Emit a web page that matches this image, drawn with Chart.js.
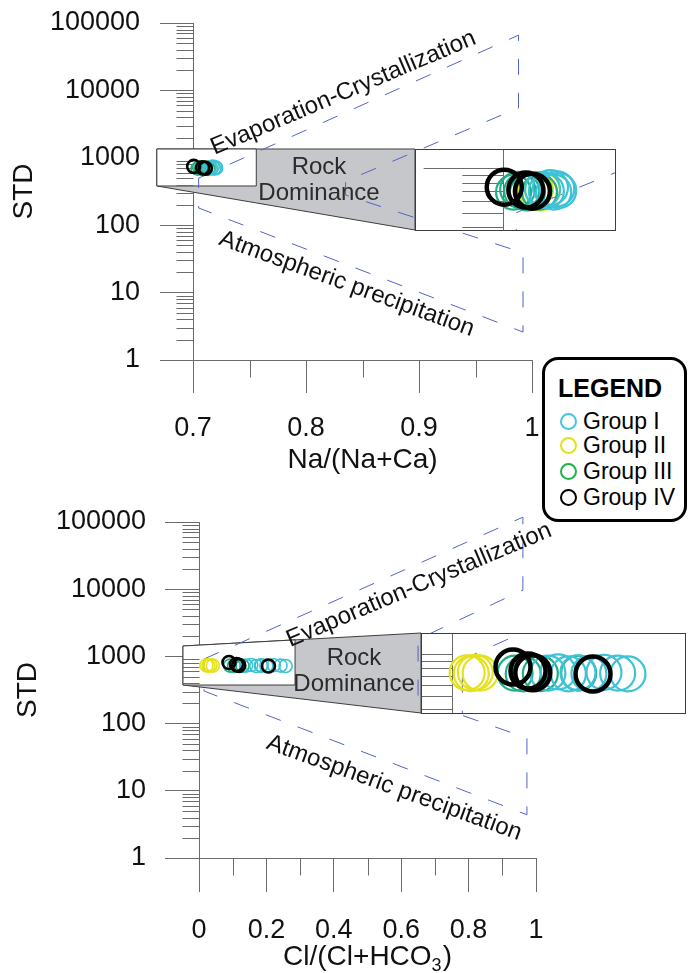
<!DOCTYPE html>
<html>
<head>
<meta charset="utf-8">
<title>Gibbs diagrams</title>
<script src="https://cdn.jsdelivr.net/npm/chart.js@4.4.1/dist/chart.umd.min.js"></script>
<style>
  html, body { margin: 0; padding: 0; background: #fff; }
  #page { position: relative; width: 688px; height: 973px; overflow: hidden; font-family: "Liberation Sans", Arial, sans-serif; }
  #topChart { position: absolute; left: 0; top: 0; }
  #bottomChart { position: absolute; left: 0; top: 480px; }
  #legend { position: absolute; left: 542px; top: 357px; width: 139px; height: 159px; border: 3px solid #000; border-radius: 16px; background: #fff; color: #000; }
  #legend .title { position: absolute; left: 13px; top: 13px; font-weight: bold; font-size: 25px; line-height: 30px; }
  #legend .row { position: absolute; left: 15px; height: 26px; display: flex; align-items: center; font-size: 23px; line-height: 26px; white-space: nowrap; }
  #legend .dot { width: 13px; height: 13px; border: 2px solid; border-radius: 50%; margin-right: 6px; }
</style>
</head>
<body>
<div id="page">
  <canvas id="topChart" width="688" height="480"></canvas>
  <canvas id="bottomChart" width="688" height="493"></canvas>
  <div id="legend">
    <div class="title">LEGEND</div>
    <div class="row" style="top:48px"><span class="dot" style="border-color:#4cc3dc"></span>Group I</div>
    <div class="row" style="top:72px"><span class="dot" style="border-color:#e2df1c"></span>Group II</div>
    <div class="row" style="top:98px"><span class="dot" style="border-color:#23b14c"></span>Group III</div>
    <div class="row" style="top:124px"><span class="dot" style="border-color:#000"></span>Group IV</div>
  </div>
</div>
<script>
  // ---- values ----
  const groupNames = ['Group I', 'Group II', 'Group III', 'Group IV'];
  const groupColors = ['#3ec2d8', '#e4e11e', '#1fae86', '#000000'];

  // Na/(Na+Ca) vs STD
  const naG1x = [0.7146, 0.7160, 0.7175, 0.7187, 0.7198, 0.7205];
  const naG1y = [720, 700, 740, 690, 725, 705];
  const naG2x = [0.7090, 0.7105, 0.7120, 0.7135, 0.7146];
  const naG2y = [700, 690, 720, 680, 710];
  const naG3x = [0.7040, 0.7055, 0.7070, 0.7090, 0.7115, 0.7135];
  const naG3y = [690, 720, 700, 680, 705, 690];
  const naG4x = [0.7006, 0.7085, 0.7109];
  const naG4y = [745, 713, 700];

  // Cl/(Cl+HCO3) vs STD
  const clG1x = [0.140, 0.155, 0.170, 0.184, 0.200, 0.222, 0.242, 0.257];
  const clG1y = [730, 745, 720, 735, 725, 740, 730, 720];
  const clG2x = [0.022, 0.028, 0.034, 0.041];
  const clG2y = [735, 725, 740, 730];
  const clG3x = [0.092, 0.104, 0.114, 0.129, 0.185];
  const clG3y = [730, 720, 740, 725, 730];
  const clG4x = [0.089, 0.111, 0.118, 0.206];
  const clG4y = [810, 757, 735, 720];

  // Gibbs boundary outline (closed)
  const naBoundX = [0.705, 0.988, 0.988, 0.835, 0.835, 0.992, 0.992, 0.705, 0.705];
  const naBoundY = [500, 66000, 5500, 450, 280, 39, 2.6, 180, 500];
  const clBoundX = [0.015, 0.961, 0.961, 0.650, 0.650, 0.973, 0.973, 0.015, 0.015];
  const clBoundY = [915, 118000, 9700, 1800, 225, 61, 4.4, 305, 915];

  // ticks
  const naTicks = [0.7, 0.8, 0.9, 1];
  const naMinor = [0.75, 0.85, 0.95];
  const clTicks = [0, 0.2, 0.4, 0.6, 0.8, 1];
  const clMinor = [0.1, 0.3, 0.5, 0.7, 0.9];
  const stdTicks = [1, 10, 100, 1000, 10000, 100000];

  // ---- styling ----
  const dashBlue = '#5264c8';
  const axisGrey = '#6b6b6b';
  const edgeGrey = '#3d3d3d';
  const fam = '"Liberation Sans", Arial, Helvetica, sans-serif';
  const layer = [0.2, 0.4, 0.3, 0.1]; // black on top, yellow underneath

  const panels = [
    {
      canvas: 'topChart', xMin: 0.7, xMax: 1.13,
      ticks: naTicks, minor: naMinor,
      groupsX: [naG1x, naG2x, naG3x, naG4x], groupsY: [naG1y, naG2y, naG3y, naG4y],
      boundX: naBoundX, boundY: naBoundY,
      xTitle: ['Na/(Na+Ca)', '', ''],
      pad: { top: 23, right: 9 }, yWidth: 193, xHeight: 120,
      tickLen: 33, minorLen: 17, yPad: 20, xPad: 19, stdPad: 7, titleLift: 20,
      small: { x: [0.668, 0.756], y: [382, 1350] },
      big: { x: [0.8965, 1.0735], y: [85, 1350] },
      zoom: { x0: 0.668, y0: 382, zx: 2.42, zy: 2.19 },
      notes: [
        { text: 'Evaporation-Crystallization', x: 0.833, y: 9150, angle: -23 },
        { text: 'Atmospheric precipitation', x: 0.836, y: 13.4, angle: 20 },
        { text: 'Rock', x: 0.8115, y: 730, angle: 0, color: '#2b2b2b' },
        { text: 'Dominance', x: 0.8115, y: 300, angle: 0, color: '#2b2b2b' }
      ]
    },
    {
      canvas: 'bottomChart', xMin: 0, xMax: 1.445,
      ticks: clTicks, minor: clMinor,
      groupsX: [clG1x, clG2x, clG3x, clG4x], groupsY: [clG1y, clG2y, clG3y, clG4y],
      boundX: clBoundX, boundY: clBoundY,
      xTitle: ['Cl/(Cl+HCO', '3', ')'],
      pad: { top: 42, right: 2 }, yWidth: 199, xHeight: 115,
      tickLen: 34, minorLen: 17, yPad: 19, xPad: 22, stdPad: 11, titleLift: 16,
      small: { x: [-0.0475, 0.285], y: [375, 1428] },
      big: { x: [0.6588, 1.442], y: [143.8, 2229] },
      zoom: { x0: -0.0454, y0: 375, zx: 2.03, zy: 2.05 },
      notes: [
        { text: 'Evaporation-Crystallization', x: 0.653, y: 11500, angle: -23 },
        { text: 'Atmospheric precipitation', x: 0.579, y: 11, angle: 20 },
        { text: 'Rock', x: 0.46, y: 946, angle: 0, color: '#2b2b2b' },
        { text: 'Dominance', x: 0.46, y: 388, angle: 0, color: '#2b2b2b' }
      ]
    }
  ];

  const zip = (xs, ys) => xs.map((x, i) => ({ x: x, y: ys[i] }));

  // ranges of the hidden scales that draw the enlarged copy inside the big box
  function insetX(p) {
    const z = p.zoom, X0 = p.big.x[0];
    return [z.x0 + (p.xMin - X0) / z.zx, z.x0 + (p.xMax - X0) / z.zx];
  }
  function insetY(p) {
    const z = p.zoom, L0 = Math.log10(p.big.y[0]);
    const f = v => Math.pow(10, Math.log10(z.y0) + (Math.log10(v) - L0) / z.zy);
    return [f(1), f(100000)];
  }

  function bigBox(chart, p) {
    const X = chart.scales.x, Y = chart.scales.y;
    const l = X.getPixelForValue(p.big.x[0]), r = X.getPixelForValue(p.big.x[1]);
    const t = Y.getPixelForValue(p.big.y[1]), b = Y.getPixelForValue(p.big.y[0]);
    return { l: Math.round(l), r: Math.round(r), t: Math.round(t), b: Math.round(b) };
  }

  function drawInsetBox(chart, p) {
    const ctx = chart.ctx, XI = chart.scales.xi, YI = chart.scales.yi;
    const bx = bigBox(chart, p);
    ctx.save();
    ctx.fillStyle = '#fff';
    ctx.fillRect(bx.l, bx.t, bx.r - bx.l, bx.b - bx.t);
    ctx.beginPath();
    ctx.rect(bx.l, bx.t, bx.r - bx.l, bx.b - bx.t);
    ctx.clip();
    // enlarged STD axis
    const ax = Math.round(XI.getPixelForValue(p.xMin)) + 0.5;
    ctx.strokeStyle = axisGrey;
    ctx.lineWidth = 1;
    ctx.beginPath();
    ctx.moveTo(ax, bx.t);
    ctx.lineTo(ax, bx.b);
    for (let e = 0; e < 5; e++) {
      for (let k = 1; k <= 9; k++) {
        const yy = Math.round(YI.getPixelForValue(k * Math.pow(10, e))) + 0.5;
        if (yy < bx.t || yy > bx.b) continue;
        const len = (k === 1 ? p.tickLen : p.minorLen) * p.zoom.zx;
        ctx.moveTo(ax - len, yy);
        ctx.lineTo(ax, yy);
      }
    }
    ctx.stroke();
    ctx.restore();
    ctx.save();
    ctx.strokeStyle = edgeGrey;
    ctx.lineWidth = 1;
    ctx.strokeRect(bx.l + 0.5, bx.t + 0.5, bx.r - bx.l, bx.b - bx.t);
    ctx.restore();
  }

  function decor(p) {
    return {
      id: 'gibbsDecor',
      beforeDatasetsDraw(chart) {
        const ctx = chart.ctx, X = chart.scales.x, Y = chart.scales.y;
        const sx = v => X.getPixelForValue(v), sy = v => Y.getPixelForValue(v);
        const sL = sx(p.small.x[0]), sR = sx(p.small.x[1]);
        const sT = sy(p.small.y[1]), sB = sy(p.small.y[0]);
        const bx = bigBox(chart, p);
        ctx.save();
        ctx.lineWidth = 1;
        ctx.strokeStyle = edgeGrey;
        // grey band joining the small box to the enlarged box
        ctx.beginPath();
        ctx.moveTo(sL, sT);
        ctx.lineTo(bx.l, bx.t);
        ctx.lineTo(bx.l, bx.b);
        ctx.lineTo(sL, sB);
        ctx.closePath();
        ctx.fillStyle = '#c5c7ca';
        ctx.fill();
        ctx.stroke();
        const tY = sT + (bx.t - sT) * (sR - sL) / (bx.l - sL);
        ctx.beginPath();
        ctx.moveTo(sL, sT);
        ctx.lineTo(sR, tY);
        ctx.lineTo(sR, sB);
        ctx.lineTo(sL, sB);
        ctx.closePath();
        ctx.fillStyle = '#fff';
        ctx.fill();
        ctx.stroke();

        // x axis line and minor ticks
        const base = Math.round(chart.chartArea.bottom) + 0.5;
        const left = Math.round(chart.chartArea.left) + 0.5;
        ctx.strokeStyle = axisGrey;
        ctx.beginPath();
        ctx.moveTo(sx(p.xMin), base);
        ctx.lineTo(sx(p.ticks[p.ticks.length - 1]), base);
        p.minor.forEach(v => {
          const xx = Math.round(sx(v)) + 0.5;
          ctx.moveTo(xx, base);
          ctx.lineTo(xx, base + p.minorLen);
        });
        for (let e = 0; e < 5; e++) {
          for (let k = 2; k <= 9; k++) {
            const yy = Math.round(sy(k * Math.pow(10, e))) + 0.5;
            ctx.moveTo(left - p.minorLen, yy);
            ctx.lineTo(left, yy);
          }
        }
        ctx.stroke();
        ctx.restore();
      },
      beforeDatasetDraw(chart, args) {
        const d = chart.data.datasets[args.index];
        if (d.insetBox) drawInsetBox(chart, p);
        if (d.inset) {
          const bx = bigBox(chart, p);
          chart.ctx.save();
          chart.ctx.beginPath();
          chart.ctx.rect(bx.l + 1, bx.t + 1, bx.r - bx.l - 1, bx.b - bx.t - 1);
          chart.ctx.clip();
        }
      },
      afterDatasetDraw(chart, args) {
        if (chart.data.datasets[args.index].inset) chart.ctx.restore();
      },
      afterDatasetsDraw(chart) {
        const ctx = chart.ctx, X = chart.scales.x, Y = chart.scales.y;
        p.notes.forEach(n => {
          ctx.save();
          ctx.translate(X.getPixelForValue(n.x), Y.getPixelForValue(n.y));
          ctx.rotate(n.angle * Math.PI / 180);
          ctx.font = '24px ' + fam;
          ctx.fillStyle = n.color || '#111';
          ctx.textAlign = 'center';
          ctx.textBaseline = 'middle';
          ctx.fillText(n.text, 0, 0);
          ctx.restore();
        });
      },
      afterDraw(chart) {
        const ctx = chart.ctx, X = chart.scales.x;
        const mid = (X.getPixelForValue(p.ticks[0]) + X.getPixelForValue(p.ticks[p.ticks.length - 1])) / 2;
        const yT = chart.height - p.titleLift;
        const big = '28px ' + fam, sub = '18px ' + fam;
        ctx.save();
        ctx.fillStyle = '#111';
        ctx.textBaseline = 'middle';
        ctx.textAlign = 'left';
        ctx.font = big;
        const w1 = ctx.measureText(p.xTitle[0]).width, w3 = ctx.measureText(p.xTitle[2]).width;
        ctx.font = sub;
        const w2 = p.xTitle[1] ? ctx.measureText(p.xTitle[1]).width + 1 : 0;
        let x0 = mid - (w1 + w2 + w3) / 2;
        ctx.font = big;
        ctx.fillText(p.xTitle[0], x0, yT);
        if (p.xTitle[1]) {
          ctx.font = sub;
          ctx.fillText(p.xTitle[1], x0 + w1, yT + 9);
        }
        ctx.font = big;
        ctx.fillText(p.xTitle[2], x0 + w1 + w2, yT);
        ctx.restore();
      }
    };
  }

  function buildPanel(p) {
    const ds = [];
    const outline = {
      data: zip(p.boundX, p.boundY), showLine: true, fill: false,
      borderColor: dashBlue, borderWidth: 1, borderDash: [16, 18],
      pointRadius: 0, clip: false, order: 6
    };
    ds.push(outline);
    p.groupsX.forEach((gx, i) => {
      ds.push({
        label: groupNames[i], data: zip(gx, p.groupsY[i]), showLine: false,
        pointRadius: 6.5, pointBorderWidth: i === 3 ? 2.6 : 1.6,
        pointBorderColor: groupColors[i], pointBackgroundColor: 'rgba(0,0,0,0)',
        clip: false, order: 5 + layer[i]
      });
    });
    ds.push({ data: [], insetBox: true, order: 4 });
    ds.push(Object.assign({}, outline, { xAxisID: 'xi', yAxisID: 'yi', inset: true, order: 3 }));
    p.groupsX.forEach((gx, i) => {
      ds.push({
        label: groupNames[i], data: zip(gx, p.groupsY[i]), showLine: false,
        xAxisID: 'xi', yAxisID: 'yi', inset: true,
        pointRadius: 17.5, pointBorderWidth: i === 3 ? 4.5 : 2.2,
        pointBorderColor: groupColors[i], pointBackgroundColor: 'rgba(0,0,0,0)',
        order: 2 + layer[i]
      });
    });

    const xiR = insetX(p), yiR = insetY(p);
    const tickFont = { family: fam, size: 27 };

    new Chart(document.getElementById(p.canvas), {
      type: 'scatter',
      data: { datasets: ds },
      options: {
        responsive: false,
        animation: false,
        events: [],
        layout: { autoPadding: false, padding: { top: p.pad.top, right: p.pad.right, left: 0, bottom: 0 } },
        plugins: { legend: { display: false }, tooltip: { enabled: false } },
        scales: {
          x: {
            type: 'linear', position: 'bottom', bounds: 'data', min: p.xMin, max: p.xMax,
            afterBuildTicks: s => { s.ticks = p.ticks.map(v => ({ value: v })); },
            afterFit: s => { s.height = p.xHeight; s.paddingLeft = 0; s.paddingRight = 0; },
            grid: { drawOnChartArea: false, drawTicks: true, tickLength: p.tickLen, tickColor: axisGrey, tickWidth: 1 },
            border: { display: false },
            ticks: { padding: p.xPad, color: '#111', font: tickFont, maxRotation: 0, autoSkip: false,
                     callback: v => String(parseFloat(Number(v).toFixed(2))) }
          },
          y: {
            type: 'logarithmic', position: 'left', bounds: 'data', min: 1, max: 100000,
            afterBuildTicks: s => { s.ticks = stdTicks.map(v => ({ value: v, major: true })); },
            afterFit: s => { s.width = p.yWidth; s.paddingTop = 0; s.paddingBottom = 0; },
            grid: { drawOnChartArea: false, drawTicks: true, tickLength: p.tickLen, tickColor: axisGrey, tickWidth: 1 },
            border: { display: true, color: axisGrey, width: 1 },
            ticks: { padding: p.yPad, color: '#111', font: tickFont, autoSkip: false, callback: v => String(v) },
            title: { display: true, text: 'STD', color: '#111', font: { family: fam, size: 28 }, padding: { top: p.stdPad, bottom: 0 } }
          },
          xi: { type: 'linear', position: 'bottom', display: false, bounds: 'data', min: xiR[0], max: xiR[1] },
          yi: { type: 'logarithmic', position: 'left', display: false, bounds: 'data', min: yiR[0], max: yiR[1] }
        }
      },
      plugins: [decor(p)]
    });
  }

  panels.forEach(buildPanel);
</script>
</body>
</html>
